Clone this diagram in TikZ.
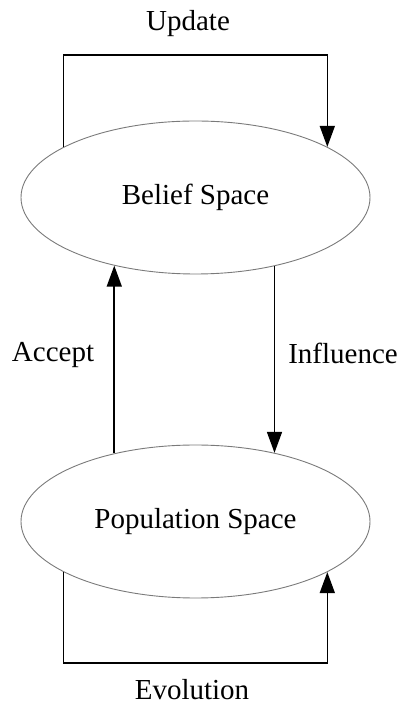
\documentclass[tikz,border=0pt]{standalone}
\usepackage{fontspec}
\setmainfont{Liberation Serif}
\usepackage{tikz}
\usetikzlibrary{positioning, arrows.meta, shapes.geometric}
\definecolor{rimgray}{HTML}{7A7A7A}

\begin{document}
\begin{tikzpicture}[x=1pt, y=1pt,
    space/.style={ellipse, draw=rimgray, line width=0.9pt, minimum width=349pt,
      minimum height=153pt, inner sep=0pt, font=\fontsize{29}{34}\selectfont},
    flow/.style={line width=1.6pt, -{Triangle[length=21pt, width=15pt]}},
    tag/.style={anchor=base, inner sep=0pt, font=\fontsize{29}{34}\selectfont}]
  \useasboundingbox (0,0) rectangle (400,704);

  % the two spaces
  \node[space] (belief) at (195.5,506.5) {Belief Space};
  \node[space] (popul) at (195.5,182.5) {Population Space};

  % connectors
  \draw[flow] (belief.159) -- ++(0,92) -| (belief.21);
  \draw[flow] (popul.140) -- (belief.220);
  \draw[flow] (belief.319) -- (popul.41);
  \draw[flow] (popul.201) -- ++(0,-91) -| (popul.339);

  % labels
  \node[tag] (updlbl) at (188,673) {Update};
  \node[tag] (acclbl) at (53,342) {Accept};
  \node[tag] (inflbl) at (343,340) {Influence};
  \node[tag] (evolbl) at (192,5) {Evolution};
\end{tikzpicture}
\end{document}
